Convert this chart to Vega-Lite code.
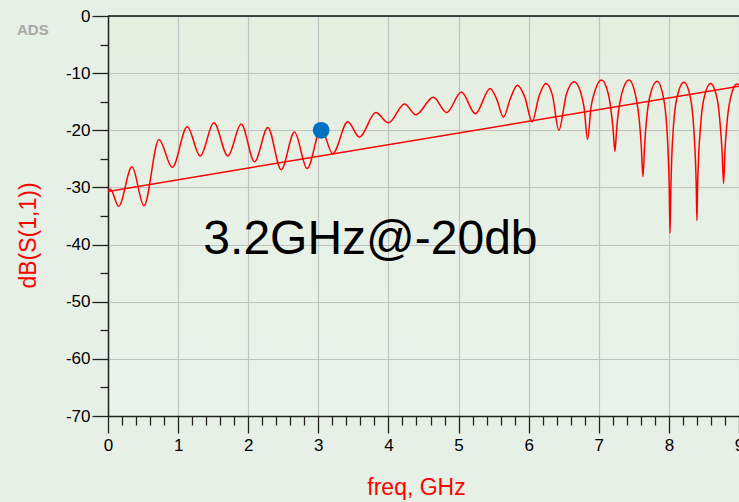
{
  "$schema": "https://vega.github.io/schema/vega-lite/v6.json",
  "autosize": {"type": "none"},
  "padding": {"left": 108, "top": 16, "right": 0, "bottom": 86},
  "width": 631,
  "height": 400,
  "background": "#e7f0e6",
  "config": {
    "view": {"stroke": null, "fill": {"gradient": "linear", "x1": 0, "y1": 0, "x2": 0, "y2": 1, "stops": [{"offset": 0, "color": "#e5eedf"}, {"offset": 1, "color": "#e9f3ec"}]}},
    "font": "Liberation Sans"
  },
  "title": {"text": "ADS", "anchor": "start", "frame": "group", "orient": "top", "baseline": "top", "offset": 0, "dx": -91, "dy": 31, "fontSize": 15, "fontWeight": "bold", "color": "#a8a8a8", "font": "Liberation Sans"},
  "datasets": {
    "s11": [
      {"freq": 0, "db": -30.8}, {"freq": 0.034, "db": -30.3}, {"freq": 0.152, "db": -33.3}, {"freq": 0.342, "db": -26.4},
      {"freq": 0.513, "db": -33.2}, {"freq": 0.727, "db": -21.6}, {"freq": 0.917, "db": -26.5}, {"freq": 1.13, "db": -19.4},
      {"freq": 1.316, "db": -24.5}, {"freq": 1.51, "db": -18.7}, {"freq": 1.71, "db": -24.5}, {"freq": 1.9, "db": -18.9},
      {"freq": 2.09, "db": -25.5}, {"freq": 2.28, "db": -19.5}, {"freq": 2.47, "db": -26.9}, {"freq": 2.66, "db": -20.3},
      {"freq": 2.84, "db": -26.7}, {"freq": 3.04, "db": -19.7}, {"freq": 3.205, "db": -24.1}, {"freq": 3.42, "db": -18.5},
      {"freq": 3.585, "db": -21.2}, {"freq": 3.82, "db": -16.9}, {"freq": 4.0, "db": -18.7}, {"freq": 4.23, "db": -15.4},
      {"freq": 4.39, "db": -17.3}, {"freq": 4.64, "db": -14.2}, {"freq": 4.83, "db": -16.9}, {"freq": 5.04, "db": -13.3},
      {"freq": 5.24, "db": -17.1}, {"freq": 5.45, "db": -12.7}, {"freq": 5.545, "db": -14.6}, {"freq": 5.64, "db": -17.7},
      {"freq": 5.74, "db": -14.4}, {"freq": 5.84, "db": -12.1}, {"freq": 5.945, "db": -14.2}, {"freq": 6.05, "db": -18.5},
      {"freq": 6.148, "db": -14.0}, {"freq": 6.245, "db": -11.8}, {"freq": 6.338, "db": -13.8}, {"freq": 6.43, "db": -20.0},
      {"freq": 6.54, "db": -13.6}, {"freq": 6.65, "db": -11.5}, {"freq": 6.745, "db": -13.5}, {"freq": 6.79, "db": -16.0},
      {"freq": 6.84, "db": -21.6}, {"freq": 6.89, "db": -15.9}, {"freq": 6.94, "db": -13.3}, {"freq": 7.04, "db": -11.2},
      {"freq": 7.135, "db": -13.6}, {"freq": 7.18, "db": -17.0}, {"freq": 7.205, "db": -20.0}, {"freq": 7.23, "db": -23.7},
      {"freq": 7.255, "db": -19.8}, {"freq": 7.28, "db": -16.8}, {"freq": 7.33, "db": -13.5}, {"freq": 7.43, "db": -11.2},
      {"freq": 7.53, "db": -14.2}, {"freq": 7.58, "db": -18.5}, {"freq": 7.605, "db": -22.5}, {"freq": 7.63, "db": -28.1},
      {"freq": 7.655, "db": -22.3}, {"freq": 7.68, "db": -18.3}, {"freq": 7.73, "db": -14.0}, {"freq": 7.83, "db": -11.4},
      {"freq": 7.923, "db": -14.3}, {"freq": 7.97, "db": -19.5}, {"freq": 7.993, "db": -25.0}, {"freq": 8.005, "db": -30.0},
      {"freq": 8.016, "db": -38.0}, {"freq": 8.028, "db": -30.0}, {"freq": 8.04, "db": -25.0}, {"freq": 8.065, "db": -19.3},
      {"freq": 8.115, "db": -14.3}, {"freq": 8.215, "db": -11.6}, {"freq": 8.31, "db": -14.5}, {"freq": 8.355, "db": -19.7},
      {"freq": 8.378, "db": -25.0}, {"freq": 8.39, "db": -29.5}, {"freq": 8.4, "db": -35.8}, {"freq": 8.41, "db": -29.5},
      {"freq": 8.423, "db": -24.8}, {"freq": 8.45, "db": -19.5}, {"freq": 8.497, "db": -14.6}, {"freq": 8.595, "db": -11.8},
      {"freq": 8.69, "db": -14.6}, {"freq": 8.735, "db": -19.5}, {"freq": 8.758, "db": -23.5}, {"freq": 8.78, "db": -29.3},
      {"freq": 8.8, "db": -23.5}, {"freq": 8.825, "db": -19.2}, {"freq": 8.875, "db": -14.6}, {"freq": 8.97, "db": -11.9},
      {"freq": 9.05, "db": -12.3}
    ],
    "fit": [{"freq": 0, "db": -30.7}, {"freq": 9.05, "db": -12.2}],
    "marker": [{"freq": 3.04, "db": -20.0}],
    "note": [{"freq": 1.36, "db": -41.7, "label": "3.2GHz@-20db"}]
  },
  "layer": [
    {
      "data": {"name": "s11"},
      "mark": {"type": "line", "color": "#ff0000", "strokeWidth": 1.5, "interpolate": "monotone", "clip": true},
      "encoding": {
        "x": {"field": "freq", "type": "quantitative",
          "scale": {"domain": [0, 9], "nice": false, "zero": false},
          "axis": {
            "values": [0,0.2,0.4,0.6,0.8,1,1.2,1.4,1.6,1.8,2,2.2,2.4,2.6,2.8,3,3.2,3.4,3.6,3.8,4,4.2,4.4,4.6,4.8,5,5.2,5.4,5.6,5.8,6,6.2,6.4,6.6,6.8,7,7.2,7.4,7.6,7.8,8,8.2,8.4,8.6,8.8,9],
            "tickCount": 500,
            "labelExpr": "datum.value % 1 === 0 ? '' + datum.value : ''",
            "title": "freq, GHz", "titleColor": "#ff0000", "titleFontSize": 23, "titleFontWeight": "normal", "titleFont": "Liberation Sans",
            "titleX": 308, "titleY": 71, "titleBaseline": "middle", "titleAnchor": null,
            "labelFontSize": 17, "labelColor": "#000000", "labelFont": "Liberation Sans", "labelPadding": 4, "labelFlush": false, "labelOverlap": false, "labelBound": false,
            "domainColor": "#222222", "domainWidth": 1.5,
            "tickColor": "#222222", "tickWidth": 1.3,
            "tickSize": {"condition": {"test": "datum.value % 1 === 0", "value": 17}, "value": 9},
            "grid": true, "gridColor": "#c2c2c2", "gridWidth": 1.2,
            "gridOpacity": {"condition": {"test": "datum.value % 1 === 0", "value": 1}, "value": 0}
          }
        },
        "y": {"field": "db", "type": "quantitative",
          "scale": {"domain": [-70, 0], "nice": false, "zero": false},
          "axis": {
            "values": [0,-5,-10,-15,-20,-25,-30,-35,-40,-45,-50,-55,-60,-65,-70],
            "tickCount": 500,
            "labelExpr": "datum.value % 10 === 0 ? '' + datum.value : ''",
            "title": "dB(S(1,1))", "titleColor": "#ff0000", "titleFontSize": 23, "titleFontWeight": "normal", "titleFont": "Liberation Sans",
            "titleX": -80, "titleY": 219, "titleBaseline": "middle", "titleAngle": -90,
            "labelFontSize": 17, "labelColor": "#000000", "labelFont": "Liberation Sans", "labelPadding": 2, "labelFlush": false, "labelOverlap": false,
            "domainColor": "#222222", "domainWidth": 1.5,
            "tickColor": "#222222", "tickWidth": 1.3,
            "tickSize": {"condition": {"test": "datum.value % 10 === 0", "value": 16}, "value": 8},
            "grid": true, "gridColor": "#c2c2c2", "gridWidth": 1.2,
            "gridOpacity": {"condition": {"test": "datum.value % 10 === 0", "value": 1}, "value": 0}
          }
        }
      }
    },
    {
      "data": {"name": "fit"},
      "mark": {"type": "line", "color": "#ff0000", "strokeWidth": 1.5, "clip": true},
      "encoding": {
        "x": {"field": "freq", "type": "quantitative"},
        "y": {"field": "db", "type": "quantitative"}
      }
    },
    {
      "data": {"name": "marker"},
      "mark": {"type": "rule", "color": "#111111", "strokeWidth": 1.5},
      "encoding": {"y": {"datum": 0}}
    },
    {
      "data": {"name": "marker"},
      "mark": {"type": "point", "filled": true, "color": "#0070c0", "size": 280, "opacity": 1, "shape": "circle"},
      "encoding": {
        "x": {"field": "freq", "type": "quantitative"},
        "y": {"field": "db", "type": "quantitative"}
      }
    },
    {
      "data": {"name": "note"},
      "mark": {"type": "text", "align": "left", "baseline": "alphabetic", "fontSize": 48, "font": "Liberation Sans", "color": "#000000"},
      "encoding": {
        "x": {"field": "freq", "type": "quantitative"},
        "y": {"field": "db", "type": "quantitative"},
        "text": {"field": "label"}
      }
    }
  ]
}
